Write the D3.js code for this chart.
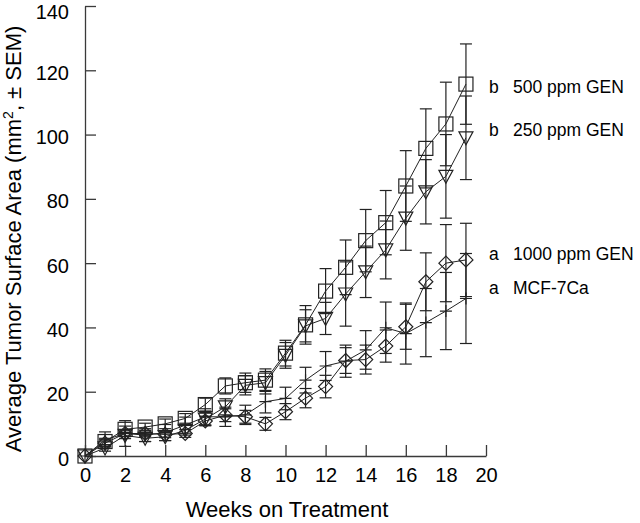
<!DOCTYPE html>
<html>
<head>
<meta charset="utf-8">
<script src="https://cdn.jsdelivr.net/npm/d3@7"></script>
<style>
  body { margin: 0; background: #fff; }
  svg { display: block; font-family: Arial, "Liberation Sans", sans-serif; }
</style>
</head>
<body>
<svg id="chart" width="640" height="523"></svg>
<script>
const weeks = d3.range(0, 20);

// mean tumor area per week, mm2
const gen500 = [0, 4.5, 8.3, 9, 10, 11.7, 16, 21.8, 22.8, 23.6, 32, 40.8, 51.3, 58.7, 67, 72.6, 84, 95.7, 103.3, 115.7];
const gen500Sem = [0, 1, 1, 1.2, 1.5, 1.5, 2, 2.5, 3, 3.5, 4, 6, 7, 8.5, 9.7, 10, 11, 12.3, 13, 12.5];

const gen250 = [0, 2.5, 6.4, 5.5, 6, 8, 11.5, 15.3, 22, 22.8, 31.3, 40.5, 42.8, 50.4, 57.3, 64.1, 74, 82.2, 87, 99];
const gen250Sem = [0, 1, 1, 1, 1.2, 1.5, 2, 2.5, 3, 3.5, 4, 5, 5, 10, 8, 9, 10, 10, 13, 13];

const gen1000 = [0, 4, 7, 7, 6.7, 7, 10.9, 12.7, 12.2, 10, 13.8, 18, 21.6, 29.7, 30, 34.2, 40.2, 54.2, 60, 61];
const gen1000Sem = [0, 1, 1, 1, 1, 1.2, 1.5, 2, 2, 2, 2.5, 3, 3.5, 4, 4.5, 5, 7, 9, 12, 11.4];

const mcf = [0, 5, 7, 6.5, 7.3, 9.6, 12.2, 12.2, 12.8, 16.9, 17.9, 23.6, 28, 29.5, 33, 39.9, 38.1, 41.5, 45.1, 49];
const mcfSem = [0, 2.5, 4, 2, 2.5, 2.5, 2.5, 3, 3, 3.5, 3.5, 4, 4.5, 5, 6, 8, 9.5, 10.6, 12, 14];

const seriesNames = ['500 ppm GEN', '250 ppm GEN', '1000 ppm GEN', 'MCF-7Ca'];
const seriesLetters = ['b', 'b', 'a', 'a'];
const labelValues = [113, 99.5, 61, 50.5];

const xTicks = d3.range(0, 21, 2);
const yTicks = d3.range(0, 141, 20);

const series = [
  { name: seriesNames[0], letter: seriesLetters[0], mean: gen500, sem: gen500Sem, shape: 'square', lab: labelValues[0] },
  { name: seriesNames[1], letter: seriesLetters[1], mean: gen250, sem: gen250Sem, shape: 'tri', lab: labelValues[1] },
  { name: seriesNames[2], letter: seriesLetters[2], mean: gen1000, sem: gen1000Sem, shape: 'diamond', lab: labelValues[2] },
  { name: seriesNames[3], letter: seriesLetters[3], mean: mcf, sem: mcfSem, shape: 'plus', lab: labelValues[3] }
];

const svg = d3.select('#chart');
const ink = '#222';
const axisInk = '#3a3a3a';

const x = d3.scaleLinear().domain([0, 20]).range([85, 486]);
const y = d3.scaleLinear().domain([0, 140]).range([456, 6]);

// axes with inward ticks
const xAxis = svg.append('g')
  .attr('transform', `translate(0, ${y(0)})`)
  .call(d3.axisBottom(x).tickValues(xTicks).tickSize(-11).tickPadding(22).tickSizeOuter(0));
const yAxis = svg.append('g')
  .attr('transform', `translate(${x(0)}, 0)`)
  .call(d3.axisLeft(y).tickValues(yTicks).tickSize(-11).tickPadding(16).tickSizeOuter(0));

[xAxis, yAxis].forEach(a => {
  a.select('.domain').attr('stroke', axisInk).attr('stroke-width', 1.3);
  a.selectAll('.tick line').attr('stroke', axisInk).attr('stroke-width', 1.3);
  a.selectAll('.tick text').attr('fill', '#000').style('font-size', '20px');
});
xAxis.selectAll('.tick text').attr('dy', '0.2em');
yAxis.selectAll('.tick text').attr('dy', d => d === 140 ? '0.6em' : '0.45em');

svg.append('text')
  .attr('x', 287).attr('y', 517)
  .attr('text-anchor', 'middle')
  .style('font-size', '22px')
  .text('Weeks on Treatment');

const ylab = svg.append('text')
  .attr('transform', 'translate(21, 239) rotate(-90)')
  .attr('text-anchor', 'middle')
  .style('font-size', '22px');
ylab.append('tspan').text('Average Tumor Surface Area (mm');
ylab.append('tspan').attr('dy', -8).style('font-size', '14px').text('2');
ylab.append('tspan').attr('dy', 8).text(', \u00b1 SEM)');

const line = d3.line().x((d, i) => x(weeks[i])).y(d => y(d));

const drawMarker = (g, shape) => {
  if (shape === 'square') {
    g.append('rect').attr('x', -7).attr('y', -7).attr('width', 14).attr('height', 14);
  } else if (shape === 'tri') {
    g.append('path').attr('d', 'M-7,-6L7,-6L0,7Z');
  } else if (shape === 'diamond') {
    g.append('path').attr('d', 'M0,-7L7,0L0,7L-7,0Z');
  } else {
    g.append('path').attr('d', 'M-6,0L6,0M0,-6L0,6');
  }
};

series.forEach(s => {
  const g = svg.append('g');

  // error bars
  const eb = g.selectAll('.eb')
    .data(weeks.filter(w => s.sem[w] > 0))
    .enter().append('g')
    .attr('stroke', ink).attr('stroke-width', 1.2);
  eb.append('line')
    .attr('x1', w => x(w)).attr('x2', w => x(w))
    .attr('y1', w => y(s.mean[w] + s.sem[w])).attr('y2', w => y(s.mean[w] - s.sem[w]));
  eb.append('line')
    .attr('x1', w => x(w) - 6).attr('x2', w => x(w) + 6)
    .attr('y1', w => y(s.mean[w] + s.sem[w])).attr('y2', w => y(s.mean[w] + s.sem[w]));
  eb.append('line')
    .attr('x1', w => x(w) - 6).attr('x2', w => x(w) + 6)
    .attr('y1', w => y(s.mean[w] - s.sem[w])).attr('y2', w => y(s.mean[w] - s.sem[w]));

  g.append('path')
    .datum(s.mean)
    .attr('d', line)
    .attr('fill', 'none')
    .attr('stroke', ink)
    .attr('stroke-width', 1);

  const m = g.selectAll('.m')
    .data(weeks)
    .enter().append('g')
    .attr('transform', w => `translate(${x(w)}, ${y(s.mean[w])})`)
    .attr('fill', 'none')
    .attr('stroke', ink)
    .attr('stroke-width', 1.2);
  m.each(function () { drawMarker(d3.select(this), s.shape); });

  svg.append('text')
    .attr('x', 489).attr('y', y(s.lab))
    .style('font-size', '17.5px')
    .text(s.letter);
  svg.append('text')
    .attr('x', 513).attr('y', y(s.lab))
    .style('font-size', '17.5px')
    .text(s.name);
});
</script>
</body>
</html>
